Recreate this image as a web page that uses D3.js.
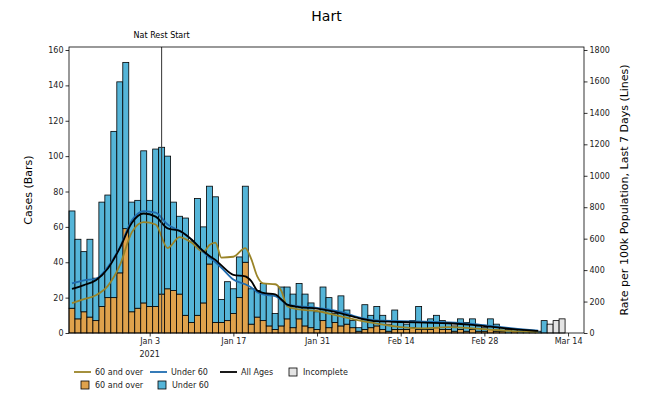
<!DOCTYPE html>
<html><head><meta charset="utf-8">
<script src="https://cdn.jsdelivr.net/npm/d3@7"></script>
<style>body{margin:0;background:#fff}svg{display:block;font-family:"DejaVu Sans",sans-serif}</style>
</head><body><svg id="c" width="653" height="397"></svg>
<script>
// ---------- data ----------
const barStart = "2020-12-21";
const over60 = [14,8,12,9,7,15,20,20,34,59,12,14,17,15,15,22,25,24,22,10,6,10,17,39,6,6,7,11,20,40,
  5,9,7,4,2,4,8,3,8,4,3,2,7,3,6,4,5,3,1,2,3,4,2,1,2,2,2,3,2,2,2,3,2,2,1,2,1,2,1,1,2,1,1,0,1,0,0,0,0,0];
const under60 = [55,45,34,44,24,59,58,94,108,94,62,61,86,60,89,83,75,50,44,55,46,66,43,44,71,13,22,14,23,43,
  20,15,21,18,9,22,18,19,20,18,14,10,19,17,5,17,8,4,2,14,7,11,8,4,11,4,3,4,13,4,6,7,5,4,3,6,5,6,3,2,6,4,2,2,1,2,1,1,1,7];
const incompleteDates = ["2021-03-11","2021-03-12","2021-03-13"];
const incompleteTotals = [5,7,8];

const lineDates = ["2020-12-21","2020-12-23","2020-12-25","2020-12-27","2020-12-29","2020-12-31",
  "2021-01-02","2021-01-04","2021-01-06","2021-01-08","2021-01-10","2021-01-12","2021-01-13","2021-01-14",
  "2021-01-15","2021-01-17","2021-01-19","2021-01-20","2021-01-21","2021-01-22","2021-01-24","2021-01-25",
  "2021-01-26","2021-01-28","2021-01-31","2021-02-04","2021-02-07","2021-02-10","2021-02-14","2021-02-18",
  "2021-02-22","2021-02-26","2021-03-01","2021-03-04","2021-03-07","2021-03-09"];
const rateAll = [280,305,335,410,540,700,760,740,665,650,595,520,490,465,430,370,360,330,270,255,245,215,180,165,155,125,95,75,70,66,62,52,40,28,18,13];
const rateUnder60 = [315,335,345,420,545,715,775,765,690,650,595,515,480,450,415,340,310,290,260,245,235,210,180,170,160,135,100,80,76,72,68,58,45,32,21,15];
const rateOver60 = [190,215,240,300,430,640,705,690,540,610,575,515,560,575,480,485,540,470,360,315,310,270,170,150,140,105,80,60,38,30,38,30,22,14,9,7];

const xTickDates = ["2021-01-03","2021-01-17","2021-01-31","2021-02-14","2021-02-28","2021-03-14"];
const xTickLabels = ["Jan 3","Jan 17","Jan 31","Feb 14","Feb 28","Mar 14"];
const leftTicks = [0,20,40,60,80,100,120,140,160];
const rightTicks = [0,200,400,600,800,1000,1200,1400,1600,1800];
const eventDate = "2021-01-05", eventLabel = "Nat Rest Start";

// ---------- setup ----------
const P = d3.timeParse("%Y-%m-%d");
const C = {o:"#dfa24c", u:"#55b5d8", inc:"#e4e4e4", lo:"#9a8428", lu:"#1f6cb0", la:"#000"};
const L=69, R=584, T=47, B=333;
const svg = d3.select("#c");
const x = d3.scaleTime().domain([new Date(2020,11,20,12), new Date(2021,2,16,16)]).range([L,R]);
const yL = d3.scaleLinear().domain([0,161.7]).range([B,T]);
const yR = d3.scaleLinear().domain([0,1819]).range([B,T]);
const day = x(new Date(2021,0,2)) - x(new Date(2021,0,1));

const s0 = P(barStart);
const bars = over60.map((v,i)=>({d:d3.timeDay.offset(s0,i), o:v, u:under60[i]}));

const g = svg.append("g");
// bars
g.selectAll(".bo").data(bars).join("rect")
  .attr("x",d=>x(d.d)-day/2).attr("width",day)
  .attr("y",d=>yL(d.o)).attr("height",d=>yL(0)-yL(d.o))
  .attr("fill",C.o).attr("stroke","#000").attr("stroke-width",0.8);
g.selectAll(".bu").data(bars).join("rect")
  .attr("x",d=>x(d.d)-day/2).attr("width",day)
  .attr("y",d=>yL(d.o+d.u)).attr("height",d=>yL(d.o)-yL(d.o+d.u))
  .attr("fill",C.u).attr("stroke","#000").attr("stroke-width",0.8);
g.selectAll(".bi").data(incompleteDates.map((d,i)=>({d:P(d),v:incompleteTotals[i]}))).join("rect")
  .attr("x",d=>x(d.d)-day/2).attr("width",day)
  .attr("y",d=>yL(d.v)).attr("height",d=>yL(0)-yL(d.v))
  .attr("fill",C.inc).attr("stroke","#000").attr("stroke-width",0.8);

// lines
const ld = lineDates.map(P);
const line = d3.line().x(d=>x(d[0])).y(d=>yR(d[1])).curve(d3.curveMonotoneX);
[[rateOver60,C.lo],[rateUnder60,C.lu],[rateAll,C.la]].forEach(([arr,col])=>{
  g.append("path").attr("d",line(arr.map((v,i)=>[ld[i],v])))
    .attr("fill","none").attr("stroke",col).attr("stroke-width",1.8);
});

// event line
const ex = x(P(eventDate));
svg.append("line").attr("x1",ex).attr("x2",ex).attr("y1",T).attr("y2",B).attr("stroke","#333").attr("stroke-width",1);
svg.append("text").attr("x",ex).attr("y",38).attr("text-anchor","middle").attr("font-size",8).text(eventLabel);

// frame
svg.append("rect").attr("x",L).attr("y",T).attr("width",R-L).attr("height",B-T).attr("fill","none").attr("stroke","#000").attr("stroke-width",0.8);

// axes
const axL = svg.append("g").attr("transform",`translate(${L},0)`)
  .call(d3.axisLeft(yL).tickValues(leftTicks).tickSize(3.5).tickPadding(2));
const axR = svg.append("g").attr("transform",`translate(${R},0)`)
  .call(d3.axisRight(yR).tickValues(rightTicks).tickFormat(d3.format("d")).tickSize(3.5).tickPadding(2));
const axB = svg.append("g").attr("transform",`translate(0,${B})`)
  .call(d3.axisBottom(x).tickValues(xTickDates.map(P)).tickFormat((d,i)=>xTickLabels[i]).tickSize(3.5).tickPadding(2));
[axL,axR,axB].forEach(a=>{a.select(".domain").remove();a.selectAll("text").attr("font-size",8).attr("fill","#222").attr("font-family","DejaVu Sans");a.selectAll("line").attr("stroke","#000").attr("stroke-width",0.8);});
axB.append("text").attr("x",x(P(xTickDates[0]))).attr("y",24).attr("text-anchor","middle").attr("font-size",8).attr("fill","#222").attr("font-family","DejaVu Sans").text("2021");

// titles
svg.append("text").attr("x",(L+R)/2).attr("y",21).attr("text-anchor","middle").attr("font-size",14).text("Hart");
svg.append("text").attr("transform",`translate(32,${(T+B)/2}) rotate(-90)`).attr("text-anchor","middle").attr("font-size",11).text("Cases (Bars)");
svg.append("text").attr("transform",`translate(628,${(T+B)/2}) rotate(-90)`).attr("text-anchor","middle").attr("font-size",11).text("Rate per 100k Population, Last 7 Days (Lines)");

// legend
const lg = svg.append("g").attr("font-size",8).attr("fill","#222");
const row1 = 372, row2 = 385;
[[C.lo,"60 and over",74],[C.lu,"Under 60",150],[C.la,"All Ages",220]].forEach(([c,t,lx])=>{
  lg.append("line").attr("x1",lx).attr("x2",lx+17).attr("y1",row1).attr("y2",row1).attr("stroke",c).attr("stroke-width",1.8);
  lg.append("text").attr("x",lx+21).attr("y",row1+3).text(t);
});
[[C.inc,"Incomplete",289,row1],[C.o,"60 and over",81,row2],[C.u,"Under 60",158,row2]].forEach(([c,t,lx,ly])=>{
  lg.append("rect").attr("x",lx).attr("y",ly-4).attr("width",8).attr("height",8).attr("fill",c).attr("stroke","#000").attr("stroke-width",0.8);
  lg.append("text").attr("x",lx+14).attr("y",ly+3).text(t);
});
</script></body></html>
